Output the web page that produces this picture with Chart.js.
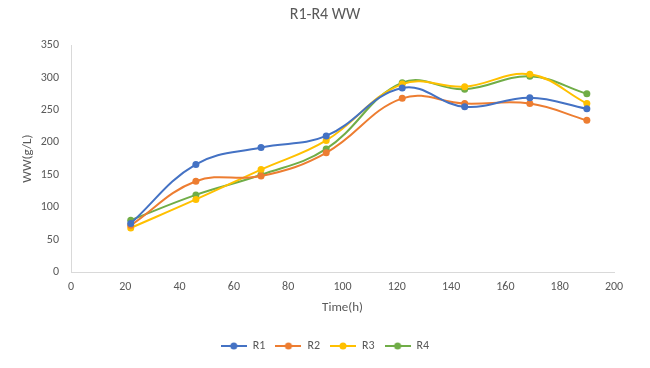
<!DOCTYPE html>
<html>
<head>
<meta charset="utf-8">
<script src="https://cdn.jsdelivr.net/npm/chart.js@4.4.0/dist/chart.umd.min.js"></script>
<style>
body{margin:0;background:#fff;}
#box{width:650px;height:368px;}
</style>
</head>
<body>
<div id="box"><canvas id="myChart"></canvas></div>
<script>
// tempi di campionamento (h)
tempi=[22, 46, 70, 94, 122, 145, 169, 190]
// WW (g/L) per reattore
datiR1=[75, 166, 192, 210, 284, 255, 269, 252]
datiR2=[72, 140, 148, 184, 268, 260, 260, 234]
datiR3=[68, 112, 158, 203, 290, 286, 305, 260]
datiR4=[80, 119, 150, 190, 292, 282, 302, 275]
nomi=['R1','R2','R3','R4']
colori=['#4472C4','#ED7D31','#FFC000','#70AD47']

FONT="Carlito, Lato, 'Liberation Sans', sans-serif"
GRIGIO='#595959'

function punti(arr){
    return arr.map((v,i)=>({x:tempi[i], y:v}))
}

// icona legenda: linea + pallino come in excel
function iconaLegenda(col){
    const c=document.createElement('canvas')
    c.width=26; c.height=10
    const g=c.getContext('2d')
    g.strokeStyle=col; g.lineWidth=2
    g.beginPath(); g.moveTo(0,5); g.lineTo(26,5); g.stroke()
    g.fillStyle=col
    g.beginPath(); g.arc(13,5,3.5,0,Math.PI*2); g.fill()
    return c
}

serie=[datiR1,datiR2,datiR3,datiR4]
datasets=serie.map((d,i)=>({
    label:nomi[i],
    data:punti(d),
    borderColor:colori[i],
    backgroundColor:colori[i],
    borderWidth:2,
    pointRadius:3.5,
    pointBorderWidth:0,
    tension:0.4,
    fill:false
}))

const ctx=document.getElementById('myChart').getContext('2d')
const myChart=new Chart(ctx,{
    type:'line',
    data:{datasets:datasets},
    options:{
        responsive:true,
        maintainAspectRatio:false,
        animation:false,
        layout:{padding:{left:18,right:18,top:0,bottom:6}},
        plugins:{
            title:{
                display:true,
                text:'R1-R4 WW',
                color:GRIGIO,
                font:{family:FONT,size:16,weight:'normal'},
                padding:{top:5,bottom:21}
            },
            legend:{
                position:'bottom',
                labels:{
                    usePointStyle:true,
                    pointStyleWidth:26,
                    color:GRIGIO,
                    font:{family:FONT,size:12},
                    padding:10,
                    generateLabels:function(chart){
                        return chart.data.datasets.map((ds,i)=>({
                            text:ds.label,
                            pointStyle:iconaLegenda(colori[i]),
                            fontColor:GRIGIO,
                            datasetIndex:i,
                            lineWidth:0,
                            strokeStyle:'transparent',
                            fillStyle:colori[i]
                        }))
                    }
                }
            },
            tooltip:{enabled:false}
        },
        scales:{
            x:{
                type:'linear',
                min:0,
                max:200,
                ticks:{stepSize:20,color:GRIGIO,font:{family:FONT,size:12},padding:8,maxRotation:0},
                grid:{display:false,drawTicks:false},
                border:{color:'#D9D9D9',width:1},
                title:{display:true,text:'Time(h)',color:GRIGIO,font:{family:FONT,size:13},padding:{top:4,bottom:14}},
                afterFit:function(s){ s.height=58 }
            },
            y:{
                min:0,
                max:350,
                ticks:{stepSize:50,color:GRIGIO,font:{family:FONT,size:12},padding:12},
                grid:{display:false,drawTicks:false},
                border:{color:'#D9D9D9',width:1},
                title:{display:true,text:'WW(g/L)',color:GRIGIO,font:{family:FONT,size:13},padding:{top:2,bottom:0}},
                afterFit:function(s){ s.width=53 }
            },
            // asse fantasma a destra solo per lo spazio
            y2:{
                position:'right',
                ticks:{display:false},
                grid:{display:false,drawTicks:false},
                border:{display:false},
                afterFit:function(s){ s.width=18 }
            }
        }
    }
})
</script>
</body>
</html>
